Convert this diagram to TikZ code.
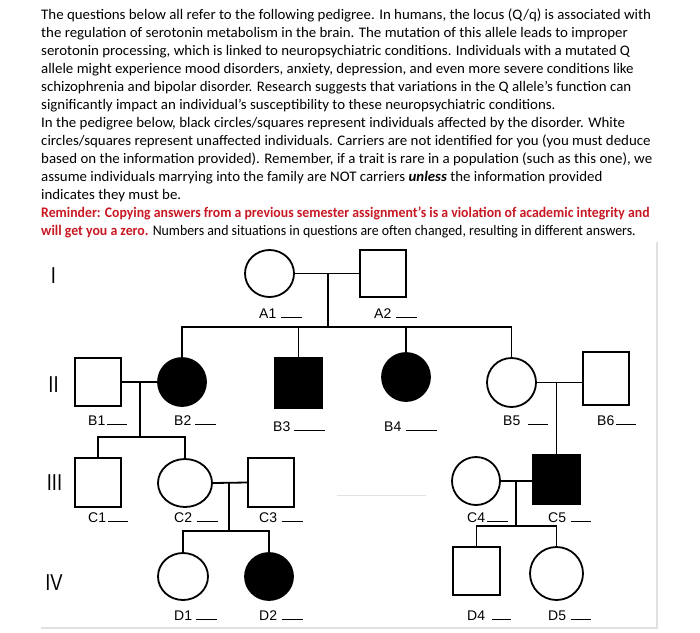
\documentclass[tikz,border=0pt]{standalone}
\usepackage{fontspec}
\setmainfont{Carlito}[FakeStretch=1.02]
\newfontfamily\pedfont{Liberation Sans}
\usetikzlibrary{shapes.geometric}
\definecolor{remred}{RGB}{200,24,36}
\definecolor{faint}{RGB}{225,225,225}
\newcommand{\bodyfont}{\fontsize{14.6}{18}\selectfont}
\newcommand{\blank}[2]{\hspace{#1pt}\rule{#2pt}{0.7pt}}
\tikzset{
  txt/.style={anchor=base west, inner sep=0pt, font=\bodyfont},
  lbl/.style={anchor=base west, inner sep=0pt, font=\pedfont\fontsize{14}{14}\selectfont},
  gen/.style={inner sep=0pt, font=\pedfont\fontsize{23}{23}\selectfont},
  fem/.style={ellipse, draw, line width=1.8pt, inner sep=0pt},
  mal/.style={rectangle, draw, line width=1.8pt, inner sep=0pt},
  aff/.style={fill=black},
  link/.style={line width=1.8pt}
}
\begin{document}
\begin{tikzpicture}[x=1pt,y=-1pt]
\useasboundingbox (0,0) rectangle (700,632);
% ---- text ----
\node[txt] (t1) at (41,19) {The questions below all refer to the following pedigree. In humans, the locus (Q/q) is associated with};
\node[txt] (t2) at (41,37) {the regulation of serotonin metabolism in the brain. The mutation of this allele leads to improper};
\node[txt] (t3) at (41,55) {serotonin processing, which is linked to neuropsychiatric conditions. Individuals with a mutated Q};
\node[txt] (t4) at (41,73) {allele might experience mood disorders, anxiety, depression, and even more severe conditions like};
\node[txt] (t5) at (41,91) {schizophrenia and bipolar disorder. Research suggests that variations in the Q allele's function can};
\node[txt] (t6) at (41,109) {significantly impact an individual's susceptibility to these neuropsychiatric conditions.};
\node[txt] (t7) at (41,127) {In the pedigree below, black circles/squares represent individuals affected by the disorder. White};
\node[txt] (t8) at (41,145) {circles/squares represent unaffected individuals. Carriers are not identified for you (you must deduce};
\node[txt] (t9) at (41,163) {based on the information provided). Remember, if a trait is rare in a population (such as this one), we};
\node[txt] (t10) at (41,181) {assume individuals marrying into the family are NOT carriers \textbf{\textit{unless}} the information provided};
\node[txt] (t11) at (41,199) {indicates they must be.};
\node[txt,text=remred] (t12) at (41,217) {\scalebox{0.925}[1]{\textbf{Reminder: Copying answers from a previous semester assignment’s is a violation of academic integrity and}}};
\node[txt] (t13) at (41,235) {\scalebox{0.93}[1]{\textcolor{remred}{\textbf{will get you a zero.}} Numbers and situations in questions are often changed, resulting in different answers.}};
% ---- faint frame artifacts ----
\draw[faint, line width=1.2pt] (41,628) -- (657,628) -- (657,242);
\draw[faint, line width=1pt] (337,495) -- (426,495);
% ---- generation numerals ----
\node[gen] (g1) at (53.5,275.5) {\scalebox{0.8}[1]{I}};
\node[gen] (g2) at (53.5,385) {\scalebox{0.8}[1]{II}};
\node[gen] (g3) at (54.5,482.5) {\scalebox{0.8}[1]{III}};
\node[gen] (g4) at (54,583) {\scalebox{0.8}[1]{IV}};
% ---- individuals ----
\node[fem, minimum width=49pt, minimum height=47pt] (A1) at (269.5,273.5) {};
\node[mal, minimum width=46pt, minimum height=47pt] (A2) at (383,273.5) {};
\node[mal, minimum width=46pt, minimum height=48pt] (B1) at (98,382) {};
\node[fem, aff, minimum width=48pt, minimum height=48pt] (B2) at (182,382) {};
\node[mal, aff, minimum width=47pt, minimum height=50pt] (B3) at (298.5,383) {};
\node[fem, aff, minimum width=48pt, minimum height=48pt] (B4) at (406,377) {};
\node[fem, minimum width=49pt, minimum height=49pt] (B5) at (511.5,382.5) {};
\node[mal, minimum width=46pt, minimum height=53pt] (B6) at (606,378.5) {};
\node[mal, minimum width=46pt, minimum height=49pt] (C1) at (98,482.5) {};
\node[fem, minimum width=54pt, minimum height=48pt] (C2) at (185,483) {};
\node[mal, minimum width=46pt, minimum height=49pt] (C3) at (271,482.5) {};
\node[fem, minimum width=48pt, minimum height=48pt] (C4) at (476,481) {};
\node[mal, aff, minimum width=47pt, minimum height=49pt] (C5) at (556.5,479.5) {};
\node[fem, minimum width=50pt, minimum height=47pt] (D1) at (183,576.5) {};
\node[fem, aff, minimum width=48pt, minimum height=47pt] (D2) at (269,576.5) {};
\node[mal, minimum width=47pt, minimum height=48pt] (D4) at (476.5,571) {};
\node[fem, minimum width=53pt, minimum height=53pt] (D5) at (556.5,573.5) {};
% ---- labels ----
\node[lbl] (lA1) at (259,318) {A1\blank{5}{21}};
\node[lbl] (lA2) at (374,318) {A2\blank{5}{21}};
\node[lbl] (lB1) at (88,425) {B1\blank{1.5}{20}};
\node[lbl] (lB2) at (174,425) {B2\blank{3.5}{21}};
\node[lbl] (lB3) at (273,431) {B3\blank{3.5}{31}};
\node[lbl] (lB4) at (384,431) {B4\blank{4.5}{31}};
\node[lbl] (lB5) at (503,425) {B5\blank{7.5}{20}};
\node[lbl] (lB6) at (597,425) {B6\blank{2}{20}};
\node[lbl] (lC1) at (88,522) {C1\blank{2}{20}};
\node[lbl] (lC2) at (174,522) {C2\blank{4.5}{21}};
\node[lbl] (lC3) at (259,522) {C3\blank{4.5}{21}};
\node[lbl] (lC4) at (467,522) {C4\blank{2}{21}};
\node[lbl] (lC5) at (548,522) {C5\blank{4.5}{20}};
\node[lbl] (lD1) at (174,620) {D1\blank{3.5}{21}};
\node[lbl] (lD2) at (259,620) {D2\blank{4.5}{21}};
\node[lbl] (lD4) at (467,620) {D4\blank{7}{19}};
\node[lbl] (lD5) at (548,620) {D5\blank{4.5}{20}};
% ---- connectors ----
\coordinate (mA) at (328,273.5);
\coordinate (sA) at (328,327);
\draw[link] (A1.east) -- (A2.west);
\draw[link] (mA) -- (sA);
\draw[link] (B2.north) -- (B2.north |- sA) -- (B5.north |- sA) -- (B5.north);
\draw[link] (B3.north) -- (B3.north |- sA);
\draw[link] (B4.north) -- (B4.north |- sA);
% B1 x B2
\coordinate (mB) at (140,382);
\coordinate (sB) at (140,437);
\draw[link] (B1.east) -- (B2.west);
\draw[link] (mB) -- (sB);
\draw[link] (C1.north) -- (C1.north |- sB) -- (C2.north |- sB) -- (C2.north);
% B5 x B6
\draw[link] (B5.east) -- (B5.east -| B6.west);
\draw[link] (C5.north |- B5.east) -- (C5.north);
% C2 x C3
\coordinate (mC) at (229,483);
\coordinate (sC) at (229,531);
\draw[link] (C2.east) -- (C3.west);
\draw[link] (mC) -- (sC);
\draw[link] (D1.north) -- (D1.north |- sC) -- (D2.north |- sC) -- (D2.north);
% C4 x C5
\coordinate (mD) at (516,481);
\coordinate (sD) at (516,526);
\draw[link] (C4.east) -- (C4.east -| C5.west);
\draw[link] (mD) -- (sD);
\draw[link] (D4.north) -- (D4.north |- sD) -- (D5.north |- sD) -- (D5.north);
\end{tikzpicture}
\end{document}
